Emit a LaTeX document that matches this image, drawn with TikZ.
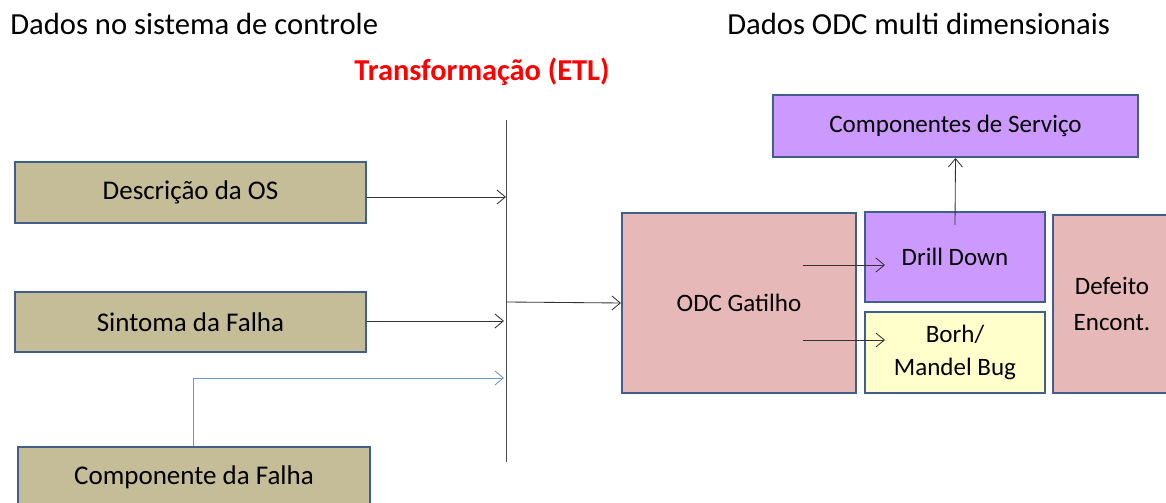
\documentclass[tikz,border=0pt]{standalone}
\usepackage{fontspec}
\setmainfont{Carlito}
\usetikzlibrary{arrows.meta}

\begin{document}
\begin{tikzpicture}[x=0.025cm,y=-0.025cm]
%
\definecolor{col_src}{RGB}{196,189,151}
\definecolor{col_edge}{RGB}{64,95,140}
\definecolor{col_odc}{RGB}{230,185,184}
\definecolor{col_drill}{RGB}{204,153,255}
\definecolor{col_bug}{RGB}{255,255,204}
\definecolor{col_link}{RGB}{110,150,210}
\definecolor{col_etl}{RGB}{255,0,0}
%
\tikzset{
  box/.style={draw=col_edge, line width=1.4pt, inner sep=0pt, align=center,
    font=\fontsize{17.8}{23.5}\selectfont},
  srcbox/.style={box, fill=col_src, minimum width=8.78cm, minimum height=1.52cm,
    font=\fontsize{19.2}{23.5}\selectfont},
  flow/.style={-{Straight Barb[length=6pt,width=10pt]}, line width=0.6pt, draw=black!80},
  title/.style={font=\fontsize{21.8}{26}\selectfont, anchor=west, inner sep=0pt}
}
%
\clip (0,0) rectangle (1166,503);
%
% titles
\node[title] (lefttitle) at (10,24) {Dados no sistema de controle};
\node[title] (righttitle) at (727,24) {Dados ODC multi dimensionais};
\node[font=\fontsize{21.6}{26}\selectfont\bfseries, text=col_etl, inner sep=0pt] (etl) at (482,72) {Transformação (ETL)};
%
% source data
\node[srcbox] (desc) at (190.5,192.5) {Descrição da OS};
\node[srcbox] (sint) at (190.5,322) {Sintoma da Falha};
\node[srcbox] (comp) at (194,477.5) {Componente da Falha};
%
% ETL bar
\coordinate (bartop) at (506,120);
\coordinate (barbot) at (506,462);
\draw[line width=0.6pt, black!70] (bartop) -- (barbot);
%
% ODC side
\node[box, fill=col_odc, minimum width=5.85cm, minimum height=4.5cm] (gat) at (739,303) {ODC Gatilho};
\node[box, fill=col_drill, minimum width=4.5cm, minimum height=2.25cm] (drill) at (955,257) {Drill Down};
\node[box, fill=col_bug, minimum width=4.5cm, minimum height=2.03cm] (bug) at (955,352.5) {Borh/\\Mandel Bug};
\node[box, fill=col_odc, minimum width=2.95cm, minimum height=4.45cm,
  font=\fontsize{17.8}{25}\selectfont] (def) at (1112,304) {Defeito\\Encont.};
\node[box, fill=col_drill, minimum width=9.13cm, minimum height=1.55cm] (serv) at (955.5,126) {Componentes de Serviço};
%
% connectors
\coordinate (in1) at (506,197);
\coordinate (in2) at (504,321);
\coordinate (in3) at (504,378);
\coordinate (out) at (506,302);
\coordinate (bend) at (193,378);
\draw[flow] (desc.east |- in1) -- (in1);
\draw[flow] (sint.east |- in2) -- (in2);
\draw[flow, draw=col_link] (comp.north -| bend) -- (bend) -- (in3);
\draw[flow] (out) -- (gat.west);
\coordinate (g1) at (803,265);
\coordinate (g2) at (803,340);
\coordinate (d1) at (885,265);
\coordinate (b1) at (885,340);
\draw[flow] (g1) -- (d1);
\draw[flow] (g2) -- (b1);
\coordinate (up) at (955,225);
\draw[flow] (up) -- (serv.south);
%
\end{tikzpicture}
\end{document}
